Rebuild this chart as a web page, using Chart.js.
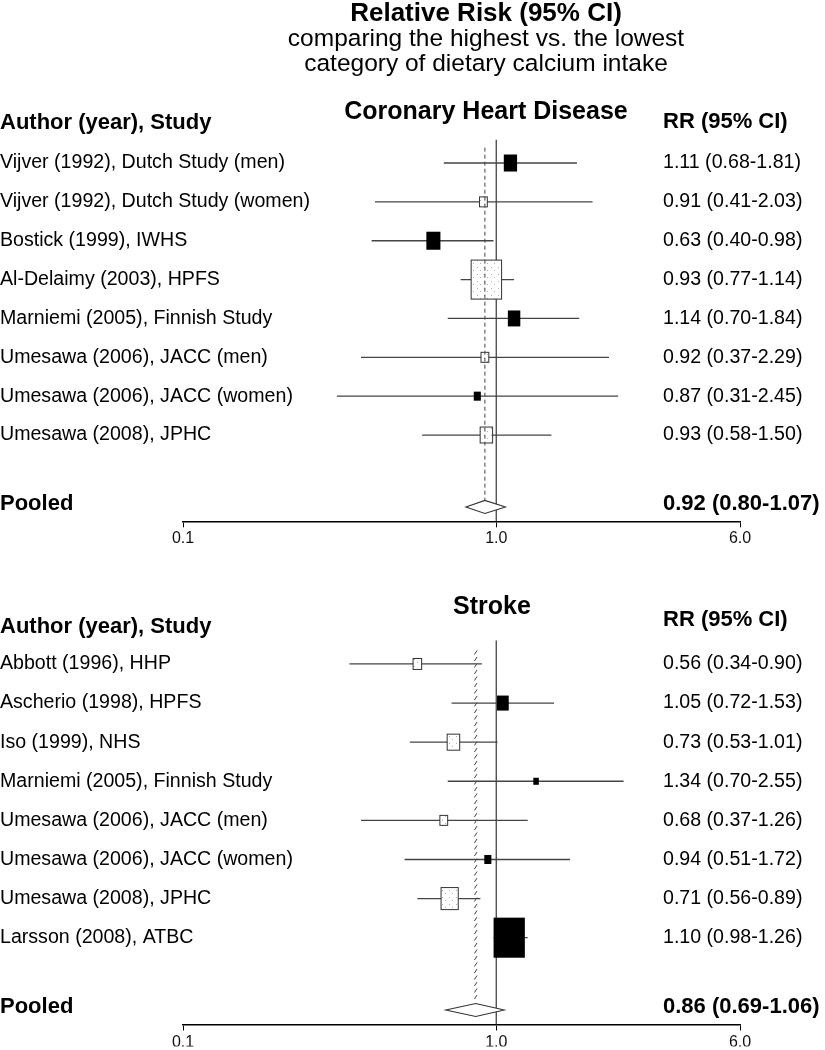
<!DOCTYPE html>
<html>
<head>
<meta charset="utf-8">
<script src="https://cdn.jsdelivr.net/npm/chart.js@4.4.1/dist/chart.umd.min.js"></script>
<style>
  html, body { margin: 0; padding: 0; background: #fff; }
  #wrap { position: relative; width: 825px; height: 1050px; }
  canvas { position: absolute; left: 0; }
</style>
</head>
<body>
<div id="wrap">
  <canvas id="chdChart" width="825" height="560" style="top:0"></canvas>
  <canvas id="strokeChart" width="825" height="490" style="top:560px"></canvas>
</div>
<script>
// Dados
const titleLines = ['Relative Risk (95% CI)', 'comparing the highest vs. the lowest', 'category of dietary calcium intake'];
const xTicks = [0.1, 1.0, 6.0];

// Doença coronária
const chdStudies = ['Vijver (1992), Dutch Study (men)', 'Vijver (1992), Dutch Study (women)', 'Bostick (1999), IWHS',
  'Al-Delaimy (2003), HPFS', 'Marniemi (2005), Finnish Study', 'Umesawa (2006), JACC (men)',
  'Umesawa (2006), JACC (women)', 'Umesawa (2008), JPHC'];
const chdRR = [1.11, 0.91, 0.63, 0.93, 1.14, 0.92, 0.87, 0.93];
const chdLower = [0.68, 0.41, 0.40, 0.77, 0.70, 0.37, 0.31, 0.58];
const chdUpper = [1.81, 2.03, 0.98, 1.14, 1.84, 2.29, 2.45, 1.50];
const chdWeight = [9.9, 3.4, 11.1, 52.0, 8.7, 3.4, 2.8, 8.7];
const chdFilled = [true, false, true, false, true, false, true, false];
const chdPooled = [0.92, 0.80, 1.07];

// AVC
const strokeStudies = ['Abbott (1996), HHP', 'Ascherio (1998), HPFS', 'Iso (1999), NHS', 'Marniemi (2005), Finnish Study',
  'Umesawa (2006), JACC (men)', 'Umesawa (2006), JACC (women)', 'Umesawa (2008), JPHC', 'Larsson (2008), ATBC'];
const strokeRR = [0.56, 1.05, 0.73, 1.34, 0.68, 0.94, 0.71, 1.10];
const strokeLower = [0.34, 0.72, 0.53, 0.70, 0.37, 0.51, 0.56, 0.98];
const strokeUpper = [0.90, 1.53, 1.01, 2.55, 1.26, 1.72, 0.89, 1.26];
const strokeWeight = [4.1, 7.7, 8.8, 1.7, 3.4, 2.8, 16.6, 54.9];
const strokeFilled = [false, true, false, true, false, true, false, true];
const strokePooled = [0.86, 0.69, 1.06];

const FONT = "'Liberation Sans', Arial, Helvetica, sans-serif";
const BOX_SCALE = 5.41;   // lado da caixa ~ raiz do peso
const RR_X = 663;         // coluna do texto RR (95% CI)
const POOLED_ROW = 8.85;

const fmt = v => v.toFixed(2);
const rrText = (v, lo, hi) => fmt(v) + ' (' + fmt(lo) + '-' + fmt(hi) + ')';

// padrão pontilhado das caixas vazias
const pat = document.createElement('canvas');
pat.width = 7; pat.height = 7;
const pctx = pat.getContext('2d');
pctx.fillStyle = '#b0b0b0';
pctx.fillRect(1, 1, 1, 1);
pctx.fillRect(4, 4, 1, 1);

const forestPlugin = {
  id: 'forest',
  afterDatasetsDraw(chart, args, o) {
    const ctx = chart.ctx, xs = chart.scales.x, ys = chart.scales.y, area = chart.chartArea;
    const x1 = xs.getPixelForValue(1);
    ctx.save();

    // linha de referência em RR = 1
    ctx.strokeStyle = '#333';
    ctx.lineWidth = 1.2;
    ctx.beginPath();
    ctx.moveTo(x1, area.top);
    ctx.lineTo(x1, area.bottom);
    ctx.stroke();

    // intervalos de confiança
    ctx.strokeStyle = '#444';
    ctx.lineWidth = 1.3;
    o.lower.forEach((lo, i) => {
      const cy = ys.getPixelForValue(i);
      ctx.beginPath();
      ctx.moveTo(xs.getPixelForValue(lo), cy);
      ctx.lineTo(xs.getPixelForValue(o.upper[i]), cy);
      ctx.stroke();
    });

    // caixas (tamanho pelo peso)
    const fillPat = ctx.createPattern(pat, 'repeat');
    o.rr.forEach((v, i) => {
      const cx = xs.getPixelForValue(v), cy = ys.getPixelForValue(i);
      const h = BOX_SCALE * Math.sqrt(o.weight[i]), w = h * 0.78;
      if (o.filled[i]) {
        ctx.fillStyle = '#000';
        ctx.fillRect(cx - w / 2, cy - h / 2, w, h);
      } else {
        ctx.fillStyle = '#fff';
        ctx.fillRect(cx - w / 2, cy - h / 2, w, h);
        ctx.fillStyle = fillPat;
        ctx.fillRect(cx - w / 2, cy - h / 2, w, h);
        ctx.strokeStyle = '#333';
        ctx.lineWidth = 1;
        ctx.strokeRect(cx - w / 2, cy - h / 2, w, h);
      }
    });

    // linha do estimador combinado
    const xp = xs.getPixelForValue(o.pooled[0]);
    const py = ys.getPixelForValue(POOLED_ROW);
    const dh = 6.5;
    ctx.strokeStyle = '#444';
    ctx.lineWidth = 1;
    if (o.slashLine) {
      for (let yy = area.top + 10; yy < py - dh - 3; yy += 6.5) {
        ctx.beginPath();
        ctx.moveTo(xp - 1.3, yy + 4);
        ctx.lineTo(xp + 1.3, yy);
        ctx.stroke();
      }
    } else {
      ctx.setLineDash([4, 3]);
      ctx.beginPath();
      ctx.moveTo(xp, area.top + 8);
      ctx.lineTo(xp, py - dh);
      ctx.stroke();
      ctx.setLineDash([]);
    }

    // losango
    const xl = xs.getPixelForValue(o.pooled[1]), xr = xs.getPixelForValue(o.pooled[2]);
    ctx.fillStyle = '#fff';
    ctx.strokeStyle = '#333';
    ctx.lineWidth = 1.1;
    ctx.beginPath();
    ctx.moveTo(xl, py);
    ctx.lineTo(xp, py - dh);
    ctx.lineTo(xr, py);
    ctx.lineTo(xp, py + dh);
    ctx.closePath();
    ctx.fill();
    ctx.stroke();
    ctx.restore();
  },
  afterDraw(chart, args, o) {
    const ctx = chart.ctx, ys = chart.scales.y;
    ctx.save();
    ctx.fillStyle = '#000';
    ctx.textBaseline = 'middle';

    if (o.mainTitle) {
      ctx.textAlign = 'center';
      ctx.font = 'bold 26px ' + FONT;
      ctx.fillText(o.mainTitle[0], o.titleX, 14);
      ctx.font = '24.5px ' + FONT;
      ctx.fillText(o.mainTitle[1], o.titleX, 39);
      ctx.fillText(o.mainTitle[2], o.titleX, 64);
    }

    ctx.textAlign = 'center';
    ctx.font = 'bold 25px ' + FONT;
    ctx.fillText(o.panelTitle, o.titleX, ys.getPixelForValue(o.panelTitleRow));

    ctx.textAlign = 'left';
    ctx.font = 'bold 22px ' + FONT;
    ctx.fillText('Author (year), Study', 0, ys.getPixelForValue(o.headerRow));
    ctx.fillText('RR (95% CI)', RR_X, ys.getPixelForValue(o.rrHeaderRow));

    ctx.font = '19.6px ' + FONT;
    o.studies.forEach((s, i) => {
      const cy = ys.getPixelForValue(i);
      ctx.fillText(s, 0, cy);
      ctx.fillText(rrText(o.rr[i], o.lower[i], o.upper[i]), RR_X, cy);
    });

    const py = ys.getPixelForValue(POOLED_ROW) - 3;
    ctx.font = 'bold 22px ' + FONT;
    ctx.fillText('Pooled', 0, py);
    ctx.fillText(rrText(o.pooled[0], o.pooled[1], o.pooled[2]), RR_X, py);
    ctx.restore();
  }
};

function makeChart(id, panel, padTop, padBottom) {
  return new Chart(document.getElementById(id), {
    type: 'scatter',
    data: {
      datasets: [{
        data: panel.rr.map((v, i) => ({ x: v, y: i })),
        pointRadius: 0
      }]
    },
    options: {
      responsive: false,
      animation: false,
      events: [],
      layout: { padding: { left: 183, right: 85, top: padTop, bottom: padBottom } },
      scales: {
        x: {
          type: 'logarithmic',
          min: 0.1,
          max: 6,
          afterBuildTicks: s => { s.ticks = xTicks.map(v => ({ value: v })); },
          afterFit: s => { s.height = 22; },
          ticks: {
            callback: v => Number(v).toFixed(1),
            font: { family: FONT, size: 16 },
            color: '#111',
            padding: 2,
            autoSkip: false,
            maxRotation: 0
          },
          grid: { drawOnChartArea: false, drawTicks: true, tickLength: 6, color: '#000', lineWidth: 1 },
          border: { display: true, color: '#000', width: 1.6 }
        },
        y: { type: 'linear', display: false, reverse: true, min: -0.6, max: 9.22 }
      },
      plugins: {
        legend: { display: false },
        tooltip: { enabled: false },
        forest: panel
      }
    },
    plugins: [forestPlugin]
  });
}

makeChart('chdChart', {
  mainTitle: titleLines,
  titleX: 486,
  panelTitle: 'Coronary Heart Disease',
  panelTitleRow: -1.31,
  headerRow: -1.03,
  rrHeaderRow: -1.06,
  studies: chdStudies, rr: chdRR, lower: chdLower, upper: chdUpper,
  weight: chdWeight, filled: chdFilled, pooled: chdPooled,
  slashLine: false
}, 139.7, 16.7);

makeChart('strokeChart', {
  titleX: 492,
  panelTitle: 'Stroke',
  panelTitleRow: -1.46,
  headerRow: -0.95,
  rrHeaderRow: -1.13,
  studies: strokeStudies, rr: strokeRR, lower: strokeLower, upper: strokeUpper,
  weight: strokeWeight, filled: strokeFilled, pooled: strokePooled,
  slashLine: true
}, 80.5, 3.5);
</script>
</body>
</html>
